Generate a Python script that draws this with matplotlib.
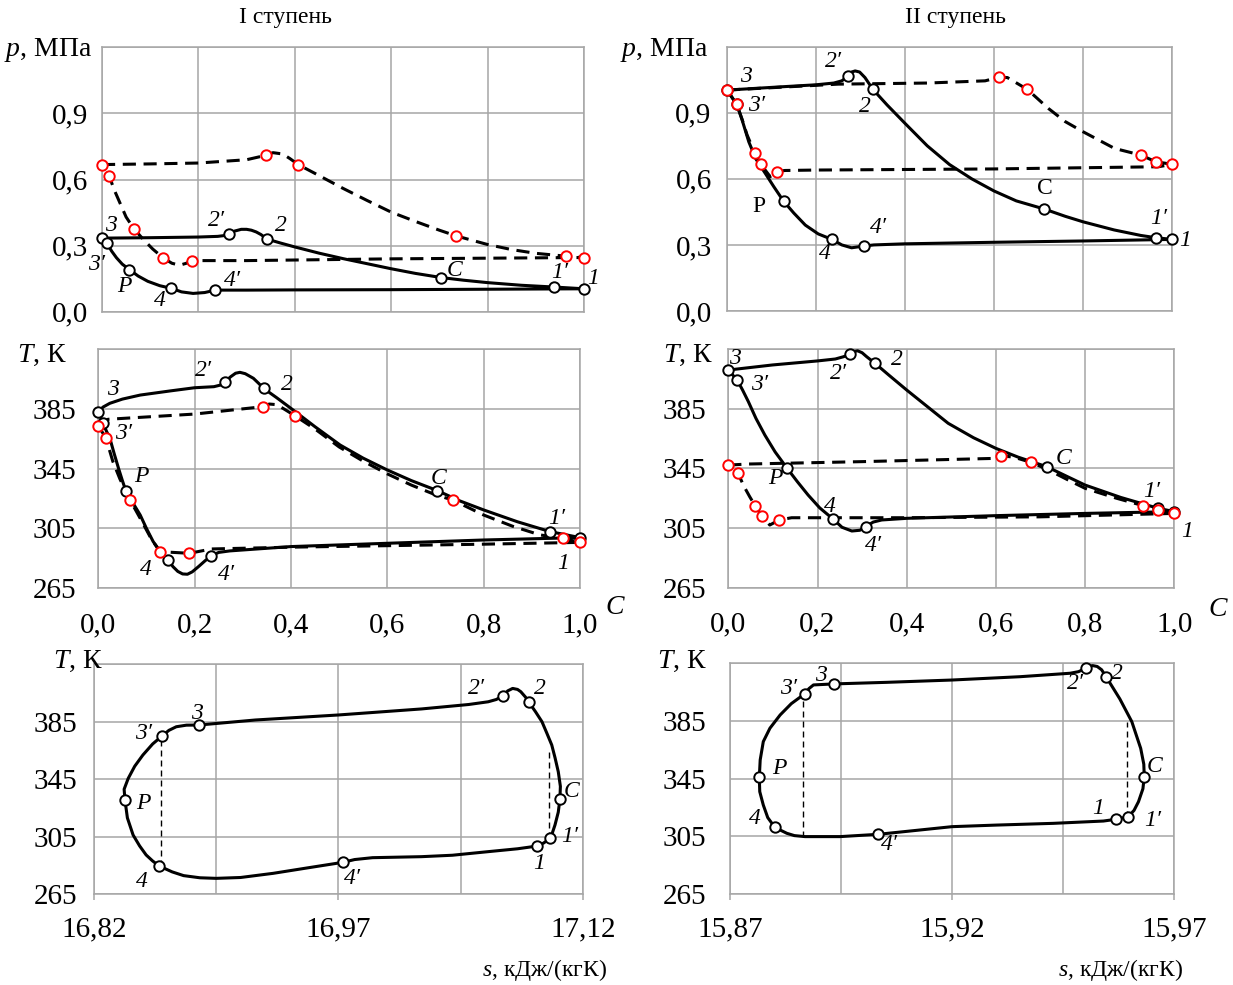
import matplotlib
matplotlib.use('Agg')
import matplotlib.pyplot as plt

plt.rcParams['font.family'] = ['Liberation Serif', 'DejaVu Serif']
plt.rcParams['mathtext.fontset'] = 'custom'
plt.rcParams['mathtext.it'] = 'Liberation Serif:italic'
plt.rcParams['mathtext.rm'] = 'Liberation Serif'

# point names (same order for every marker list)
names = ['3', '3′', 'P', '4', '4′', '1', '1′', 'C', '2', '2′']

# ---------- p - C, I ступень ----------
pc1_line_c = [0, 0.1, 0.2, 0.24, 0.255, 0.263, 0.275, 0.289, 0.3, 0.31, 0.32, 0.33, 0.342,
              0.37, 0.4, 0.45, 0.5, 0.55, 0.6, 0.65, 0.704, 0.75, 0.8, 0.87, 0.938, 1.0,
              0.6, 0.4, 0.3, 0.235, 0.213, 0.189, 0.165, 0.144, 0.12, 0.095, 0.075, 0.057, 0.042, 0.03, 0.02,
              0.010, 0.0]
pc1_line_p = [0.334, 0.336, 0.339, 0.342, 0.346, 0.351, 0.366, 0.374, 0.374, 0.37, 0.362, 0.35, 0.330,
              0.312, 0.294, 0.266, 0.241, 0.218, 0.195, 0.174, 0.155, 0.143, 0.132, 0.120, 0.112, 0.104,
              0.100, 0.099, 0.098, 0.098, 0.087, 0.083, 0.09, 0.106, 0.118, 0.138, 0.162, 0.191, 0.216, 0.245,
              0.275, 0.312, 0.334]
pc1_pts_c = [0, 0.010, 0.057, 0.144, 0.235, 1.0, 0.938, 0.704, 0.342, 0.263]
pc1_pts_p = [0.334, 0.312, 0.191, 0.106, 0.098, 0.104, 0.112, 0.155, 0.330, 0.351]
pc1_dash_c = [0, 0.1, 0.2, 0.3, 0.33, 0.355, 0.375, 0.39, 0.407, 0.44, 0.5, 0.55, 0.6, 0.65, 0.7, 0.735,
              0.8, 0.85, 0.9, 0.963, 1.0,
              0.6, 0.3, 0.187, 0.175, 0.161, 0.145, 0.127, 0.105, 0.085, 0.066, 0.05, 0.04, 0.026, 0.015, 0.0]
pc1_dash_p = [0.668, 0.671, 0.675, 0.69, 0.705, 0.722, 0.716, 0.695, 0.668, 0.63, 0.56, 0.505, 0.452, 0.41, 0.37,
              0.344, 0.305, 0.282, 0.265, 0.252, 0.246,
              0.240, 0.232, 0.232, 0.22, 0.211, 0.22, 0.244, 0.285, 0.33, 0.377, 0.43, 0.48, 0.55, 0.615, 0.668]
pc1_red_c = [0, 0.015, 0.066, 0.127, 0.187, 1.0, 0.963, 0.735, 0.407, 0.341]
pc1_red_p = [0.668, 0.615, 0.377, 0.244, 0.229, 0.246, 0.252, 0.344, 0.668, 0.713]

# ---------- p - C, II ступень ----------
pc2_line_c = [0, 0.123, 0.2, 0.24, 0.258, 0.273, 0.28, 0.288, 0.298, 0.31, 0.32, 0.328,
              0.36, 0.4, 0.45, 0.5, 0.55, 0.6, 0.65, 0.713, 0.76, 0.8, 0.87, 0.93, 0.963, 1.0,
              0.8, 0.6, 0.4, 0.33, 0.308, 0.28, 0.258, 0.236, 0.205, 0.176, 0.15, 0.127, 0.105, 0.086,
              0.065, 0.049, 0.034, 0.022, 0.0]
pc2_line_p = [1.003, 1.018, 1.027, 1.035, 1.045, 1.068, 1.085, 1.09, 1.085, 1.06, 1.03, 1.006,
              0.935, 0.852, 0.75, 0.665, 0.6, 0.545, 0.5, 0.463, 0.43, 0.405, 0.368, 0.343, 0.333, 0.325,
              0.318, 0.312, 0.305, 0.300, 0.295, 0.287, 0.300, 0.325, 0.35, 0.39, 0.445, 0.499, 0.565, 0.625,
              0.69, 0.768, 0.867, 0.938, 1.003]
pc2_pts_c = [0, 0.022, 0.127, 0.236, 0.308, 1.0, 0.963, 0.713, 0.328, 0.273]
pc2_pts_p = [1.003, 0.938, 0.499, 0.325, 0.295, 0.325, 0.333, 0.463, 1.006, 1.068]
pc2_dash_c = [0, 0.25, 0.45, 0.58, 0.611, 0.63, 0.675, 0.722, 0.76, 0.8, 0.871, 0.93, 0.963, 1.0,
              0.97, 0.6, 0.2, 0.13, 0.112, 0.097, 0.076, 0.062, 0.045, 0.034, 0.022, 0.0]
pc2_dash_p = [1.003, 1.03, 1.035, 1.045, 1.061, 1.06, 1.006, 0.92, 0.86, 0.814, 0.738, 0.708, 0.678, 0.666,
              0.655, 0.645, 0.64, 0.638, 0.632, 0.61, 0.666, 0.719, 0.8, 0.87, 0.938, 1.003]
pc2_red_c = [0, 0.022, 0.062, 0.076, 0.112, 1.0, 0.963, 0.93, 0.675, 0.611]
pc2_red_p = [1.003, 0.938, 0.719, 0.666, 0.632, 0.666, 0.678, 0.708, 1.006, 1.061]

# ---------- T - C, I ступень ----------
tc1_line_c = [0, 0.01, 0.024, 0.05, 0.087, 0.15, 0.2, 0.24, 0.255, 0.263, 0.275, 0.285, 0.294, 0.305, 0.322, 0.333,
              0.343, 0.37, 0.4, 0.45, 0.502, 0.55, 0.6, 0.65, 0.704, 0.75, 0.8, 0.87, 0.938, 1.0,
              0.8, 0.6, 0.4, 0.273, 0.25, 0.235, 0.222, 0.208, 0.195, 0.185, 0.175, 0.165, 0.155, 0.145, 0.13,
              0.114, 0.1, 0.087, 0.072, 0.057, 0.05, 0.042, 0.033, 0.024, 0.017, 0.010, 0.0]
tc1_line_t = [383.1, 386.2, 388.7, 391.5, 394.2, 397.0, 399.1, 399.8, 401.0, 403.1, 406.5, 408.8, 409.4, 408.5, 405.4, 402.0,
              398.7, 392.5, 385.3, 373.0, 360.8, 352.0, 344.1, 337.0, 330.3, 323.5, 317.4, 309.5, 302.9, 298.9,
              297.3, 295.1, 292.9, 290.0, 289.0, 286.8, 283.5, 279.5, 276.0, 274.4, 274.6, 276.3, 279.5, 283.9, 289.0,
              296.2, 305.0, 314.0, 322.0, 330.3, 337.0, 345.2, 355.0, 365.3, 370.0, 375.3, 383.1]
tc1_pts_c = [0, 0.010, 0.057, 0.145, 0.235, 1.0, 0.938, 0.704, 0.343, 0.263]
tc1_pts_t = [383.1, 375.3, 330.3, 283.9, 286.8, 298.9, 302.9, 330.3, 398.7, 403.1]
tc1_dash_c = [0, 0.02, 0.2, 0.341, 0.355, 0.37, 0.385, 0.408, 0.45, 0.5, 0.55, 0.6, 0.65, 0.7, 0.736, 0.8, 0.86,
              0.917, 0.964, 1.0,
              0.8, 0.6, 0.4, 0.235, 0.189, 0.128, 0.11, 0.09, 0.066, 0.045, 0.03, 0.016, 0.0]
tc1_dash_t = [373.7, 378.0, 381.5, 386.4, 388.2, 387.8, 385.0, 380.4, 371.5, 359.5, 350.0, 341.5, 334.0, 327.5, 324.0,
              314.0, 306.5, 300.7, 298.4, 295.7,
              294.5, 293.5, 292.5, 291.3, 288.4, 289.5, 298.0, 310.0, 324.0, 338.0, 350.0, 365.3, 373.7]
tc1_red_c = [0, 0.016, 0.066, 0.128, 0.189, 1.0, 0.964, 0.736, 0.408, 0.341]
tc1_red_t = [373.7, 365.3, 324.0, 289.5, 288.4, 295.7, 298.4, 324.0, 380.4, 386.4]

# ---------- T - C, II ступень ----------
tc2_line_c = [0, 0.099, 0.2, 0.24, 0.258, 0.273, 0.282, 0.29, 0.3, 0.31, 0.329, 0.36, 0.4, 0.45, 0.493, 0.55, 0.6,
              0.65, 0.714, 0.76, 0.8, 0.88, 0.964, 1.0,
              0.8, 0.6, 0.4, 0.344, 0.325, 0.308, 0.295, 0.277, 0.255, 0.235, 0.205, 0.179, 0.155, 0.131, 0.105,
              0.082, 0.062, 0.045, 0.032, 0.020, 0.0]
tc2_line_t = [410.9, 414.3, 417.0, 418.3, 419.8, 421.4, 423.3, 423.8, 422.5, 419.9, 415.4, 407.5, 397.5, 385.5, 375.2,
              365.5, 358.4, 352.5, 346.1, 339.5, 333.8, 325.5, 318.2, 316.0,
              314.8, 313.3, 311.5, 310.4, 309.0, 305.9, 303.5, 303.0, 305.5, 311.0, 318.5, 327.1, 336.0, 345.4, 356.0,
              367.3, 378.5, 389.7, 397.5, 404.2, 410.9]
tc2_pts_c = [0, 0.020, 0.131, 0.235, 0.308, 1.0, 0.964, 0.714, 0.329, 0.273]
tc2_pts_t = [410.9, 404.2, 345.4, 311.0, 305.9, 316.0, 318.2, 346.1, 415.4, 421.4]
tc2_dash_c = [0, 0.045, 0.3, 0.6, 0.611, 0.64, 0.679, 0.714, 0.76, 0.8, 0.87, 0.93, 0.964, 1.0,
              0.7, 0.4, 0.142, 0.114, 0.093, 0.075, 0.060, 0.048, 0.035, 0.022, 0.0]
tc2_dash_t = [347.2, 347.9, 349.5, 351.7, 353.5, 352.5, 349.0, 344.5, 337.5, 331.6, 325.0, 320.0, 317.1, 314.8,
              312.5, 311.9, 311.9, 310.4, 307.0, 313.3, 320.0, 326.0, 333.0, 341.6, 347.2]
tc2_red_c = [0, 0.022, 0.060, 0.075, 0.114, 1.0, 0.964, 0.93, 0.679, 0.611]
tc2_red_t = [347.2, 341.6, 320.0, 313.3, 310.4, 314.8, 317.1, 320.0, 349.0, 353.5]

# ---------- T - s, I ступень ----------
ts1_line_s = [16.8844, 16.919, 16.97, 17.021, 17.05, 17.062, 17.067, 17.071, 17.074, 17.077, 17.080, 17.082, 17.085,
              17.087, 17.091, 17.095, 17.098, 17.101, 17.103, 17.105, 17.1063, 17.106, 17.105, 17.103, 17.1015,
              17.100, 17.096, 17.092, 17.08, 17.062, 17.04, 17.021, 16.991, 16.98, 16.973, 16.95, 16.930, 16.91,
              16.895, 16.885, 16.875, 16.868, 16.860, 16.856, 16.852, 16.848, 16.844, 16.8405, 16.839, 16.8385,
              16.841, 16.845, 16.850, 16.856, 16.862, 16.866, 16.8705, 16.8767, 16.8844]
ts1_line_t = [382.7, 386.2, 389.7, 393.9, 397.0, 398.9, 400.5, 403.1, 406.5, 408.2, 407.5, 405.9, 402.0,
              398.5, 392.0, 385.0, 377.0, 368.8, 360.0, 350.2, 340.0, 330.9, 322.0, 313.1, 308.0,
              303.8, 300.5, 298.4, 296.5, 294.5, 292.0, 291.0, 290.3, 289.0, 287.1, 283.0, 279.4, 276.5,
              275.9, 276.3, 277.8, 280.4, 284.5, 288.0, 292.2, 298.5, 306.1, 318.0, 330.5, 338.0,
              345.5, 354.0, 361.8, 369.5, 375.3, 379.0, 381.5, 382.6, 382.7]
ts1_pts_s = [16.8844, 16.862, 16.839, 16.860, 16.973, 17.092, 17.100, 17.106, 17.087, 17.071]
ts1_pts_t = [382.7, 375.3, 330.5, 284.5, 287.1, 298.4, 303.8, 330.9, 398.5, 403.1]
ts1_vert_s = [16.861, 17.0993]
ts1_vert_top = [375.3, 364.0]
ts1_vert_bot = [284.5, 304.0]

# ---------- T - s, II ступень ----------
ts2_line_s = [15.8934, 15.9053, 15.92, 15.9353, 15.9466, 15.9485, 15.9501, 15.951, 15.9517, 15.9527, 15.9537,
              15.9547, 15.9578, 15.9605, 15.9625, 15.9632, 15.9633, 15.963, 15.962, 15.961, 15.9597, 15.9569,
              15.9541, 15.9428, 15.93, 15.92, 15.91, 15.9034, 15.8948, 15.8869, 15.8845, 15.8828, 15.8801,
              15.8785, 15.8775, 15.8767, 15.8766, 15.8768, 15.8775, 15.879, 15.8813, 15.8838, 15.8869, 15.8878,
              15.8888, 15.8934]
ts2_line_t = [410.7, 411.8, 413.4, 415.7, 418.1, 419.2, 421.5, 423.0, 423.4, 422.8, 420.5,
              415.7, 400.3, 384.5, 366.0, 355.0, 346.4, 338.0, 329.0, 323.0, 318.6, 316.8,
              315.6, 314.0, 312.8, 311.7, 308.5, 306.4, 304.8, 304.8, 305.5, 307.1, 311.2,
              318.0, 326.7, 336.0, 345.9, 358.0, 370.7, 380.0, 389.2, 397.0, 404.0, 407.5,
              410.0, 410.7]
ts2_pts_s = [15.8934, 15.8869, 15.8766, 15.8801, 15.9034, 15.9569, 15.9597, 15.9633, 15.9547, 15.9501]
ts2_pts_t = [410.7, 404.0, 345.9, 311.2, 306.4, 316.8, 318.6, 346.4, 415.7, 421.5]
ts2_vert_s = [15.8865, 15.9595]
ts2_vert_top = [404.0, 384.5]
ts2_vert_bot = [304.8, 318.6]

# tick labels
p_ticks = [0, 0.3, 0.6, 0.9, 1.2]
p_labels = ['0,0', '0,3', '0,6', '0,9', '']
t_ticks = [265, 305, 345, 385, 425]
t_labels = ['265', '305', '345', '385', '']
c_ticks = [0, 0.2, 0.4, 0.6, 0.8, 1.0]
c_labels = ['0,0', '0,2', '0,4', '0,6', '0,8', '1,0']
s1_ticks = [16.82, 16.97, 17.12]
s1_labels = ['16,82', '16,97', '17,12']
s2_ticks = [15.87, 15.92, 15.97]
s2_labels = ['15,87', '15,92', '15,97']

W, H = 1233, 985
fig = plt.figure(figsize=(W / 100, H / 100), dpi=100)
GRID = '#a6a6a6'
TICK_FS = 21


def add_ax(x0, y0, x1, y1, ypad):
    ax = fig.add_axes([x0 / W, 1 - y1 / H, (x1 - x0) / W, (y1 - y0) / H])
    for sp in ax.spines.values():
        sp.set_color(GRID)
        sp.set_linewidth(1.1)
    ax.grid(True, color=GRID, lw=1.1)
    ax.set_axisbelow(True)
    ax.tick_params(length=0, labelsize=TICK_FS)
    ax.tick_params(axis='y', pad=ypad)
    return ax


def ftext(x, y, s, **kw):
    fig.text(x / W, 1 - y / H, s, **kw)


def draw_cycle(ax, lx, ly, px, py, dx=None, dy=None, rx=None, ry=None):
    if dx is not None:
        ax.plot(dx, dy, color='black', lw=2.2, dashes=(4.3, 2.5), zorder=2, clip_on=False)
    ax.plot(lx, ly, color='black', lw=2.2, solid_joinstyle='round', zorder=3, clip_on=False)
    ax.plot(px, py, 'o', ms=7.5, mfc='white', mec='black', mew=1.4, zorder=4, clip_on=False)
    if rx is not None:
        ax.plot(rx, ry, 'o', ms=7.5, mfc='white', mec='red', mew=1.4, zorder=5, clip_on=False)


def point_labels(ax, xs, ys, upright=()):
    for n, x, y in zip(names, xs, ys):
        ax.text(x, y, n, fontsize=17, style='normal' if n in upright else 'italic',
                ha='center', va='center', zorder=6)


# p-C I
ax = add_ax(102, 47.4, 584, 311.7, 10)
draw_cycle(ax, pc1_line_c, pc1_line_p, pc1_pts_c, pc1_pts_p, pc1_dash_c, pc1_dash_p, pc1_red_c, pc1_red_p)
ax.set_xlim(0, 1); ax.set_ylim(0, 1.2)
ax.set_xticks(c_ticks); ax.set_xticklabels([])
ax.set_yticks(p_ticks); ax.set_yticklabels(p_labels)
point_labels(ax, [0.018, -0.012, 0.047, 0.12, 0.27, 1.018, 0.95, 0.732, 0.372, 0.237],
             [0.392, 0.216, 0.113, 0.053, 0.143, 0.151, 0.176, 0.188, 0.392, 0.415])

# p-C II
ax = add_ax(727, 46.7, 1172, 311, 11)
draw_cycle(ax, pc2_line_c, pc2_line_p, pc2_pts_c, pc2_pts_p, pc2_dash_c, pc2_dash_p, pc2_red_c, pc2_red_p)
ax.set_xlim(0, 1); ax.set_ylim(0, 1.2)
ax.set_xticks(c_ticks); ax.set_xticklabels([])
ax.set_yticks(p_ticks); ax.set_yticklabels(p_labels)
point_labels(ax, [0.043, 0.067, 0.071, 0.221, 0.34, 1.03, 0.969, 0.714, 0.31, 0.239],
             [1.064, 0.935, 0.474, 0.262, 0.378, 0.318, 0.421, 0.554, 0.927, 1.135], upright=('P', 'C'))

# T-C I
ax = add_ax(98.3, 349, 580, 588.3, 16)
draw_cycle(ax, tc1_line_c, tc1_line_t, tc1_pts_c, tc1_pts_t, tc1_dash_c, tc1_dash_t, tc1_red_c, tc1_red_t)
ax.set_xlim(0, 1); ax.set_ylim(265, 425)
ax.set_xticks(c_ticks); ax.set_xticklabels(c_labels)
ax.set_yticks(t_ticks); ax.set_yticklabels(t_labels)
ax.tick_params(axis='x', pad=17)
point_labels(ax, [0.03, 0.052, 0.09, 0.099, 0.266, 0.965, 0.952, 0.706, 0.391, 0.218],
             [397.6, 368.6, 339.6, 277.9, 273.9, 281.7, 311.8, 338.5, 401.4, 410.9])

# T-C II
ax = add_ax(728.3, 349, 1174.3, 587.7, 16)
draw_cycle(ax, tc2_line_c, tc2_line_t, tc2_pts_c, tc2_pts_t, tc2_dash_c, tc2_dash_t, tc2_red_c, tc2_red_t)
ax.set_xlim(0, 1); ax.set_ylim(265, 425)
ax.set_xticks(c_ticks); ax.set_xticklabels(c_labels)
ax.set_yticks(t_ticks); ax.set_yticklabels(t_labels)
ax.tick_params(axis='x', pad=17)
point_labels(ax, [0.015, 0.071, 0.105, 0.228, 0.325, 1.028, 0.949, 0.751, 0.377, 0.247],
             [418.8, 400.9, 338.3, 319.3, 293.6, 302.5, 329.4, 351.7, 417.7, 408.7])

# T-s I
ax = add_ax(94, 664.3, 582.7, 894, 12)
draw_cycle(ax, ts1_line_s, ts1_line_t, ts1_pts_s, ts1_pts_t)
for s, t0, t1 in zip(ts1_vert_s, ts1_vert_bot, ts1_vert_top):
    ax.plot([s, s], [t0, t1], color='black', lw=1.0, dashes=(4.3, 2.9), zorder=2)
ax.set_xlim(16.82, 17.12); ax.set_ylim(265, 425)
ax.set_xticks(s1_ticks); ax.set_xticklabels(s1_labels)
ax.set_xticks([16.895, 17.045], minor=True)
ax.grid(True, which='minor', axis='x', color=GRID, lw=1.1)
ax.set_yticks(t_ticks); ax.set_yticklabels(t_labels)
ax.tick_params(axis='x', which='major', length=4, color=GRID, width=1.1, pad=12, direction='out')
ax.tick_params(axis='x', which='minor', length=0)
point_labels(ax, [16.8832, 16.8502, 16.8502, 16.8491, 16.9786, 17.093, 17.112, 17.113, 17.094, 17.055],
             [390.9, 376.9, 328.2, 273.6, 275.9, 286.4, 304.9, 336.3, 408.3, 408.3])

# T-s II
ax = add_ax(730, 663.3, 1174, 894, 17)
draw_cycle(ax, ts2_line_s, ts2_line_t, ts2_pts_s, ts2_pts_t)
for s, t0, t1 in zip(ts2_vert_s, ts2_vert_bot, ts2_vert_top):
    ax.plot([s, s], [t0, t1], color='black', lw=1.0, dashes=(4.3, 2.9), zorder=2)
ax.set_xlim(15.87, 15.97); ax.set_ylim(265, 425)
ax.set_xticks(s2_ticks); ax.set_xticklabels(s2_labels)
ax.set_xticks([15.895, 15.945], minor=True)
ax.grid(True, which='minor', axis='x', color=GRID, lw=1.1)
ax.set_yticks(t_ticks); ax.set_yticklabels(t_labels)
ax.tick_params(axis='x', which='major', length=4, color=GRID, width=1.1, pad=12, direction='out')
ax.tick_params(axis='x', which='minor', length=0)
point_labels(ax, [15.8906, 15.8831, 15.8811, 15.8756, 15.906, 15.953, 15.9653, 15.9657, 15.9571, 15.9477],
             [416.4, 407.7, 352.2, 317.5, 299.0, 324.4, 316.3, 353.3, 418.1, 411.1])

# titles and axis labels
ftext(285, 18, 'I ступень', fontsize=17, ha='center', va='center')
ftext(955, 18, 'II ступень', fontsize=17, ha='center', va='center')
ftext(92, 50, '$p$, МПа', fontsize=20, ha='right', va='center')
ftext(708, 50, '$p$, МПа', fontsize=20, ha='right', va='center')
ftext(67, 355, '$T$, К', fontsize=20, ha='right', va='center')
ftext(713, 355, '$T$, К', fontsize=20, ha='right', va='center')
ftext(103, 661, '$T$, К', fontsize=20, ha='right', va='center')
ftext(707, 661, '$T$, К', fontsize=20, ha='right', va='center')
ftext(615, 608, 'C', fontsize=20, style='italic', ha='center', va='center')
ftext(1218, 610, 'C', fontsize=20, style='italic', ha='center', va='center')
ftext(607, 970, '$s$, кДж/(кгК)', fontsize=17, ha='right', va='center')
ftext(1183, 970, '$s$, кДж/(кгК)', fontsize=17, ha='right', va='center')

fig.savefig('out.png', dpi=100)
